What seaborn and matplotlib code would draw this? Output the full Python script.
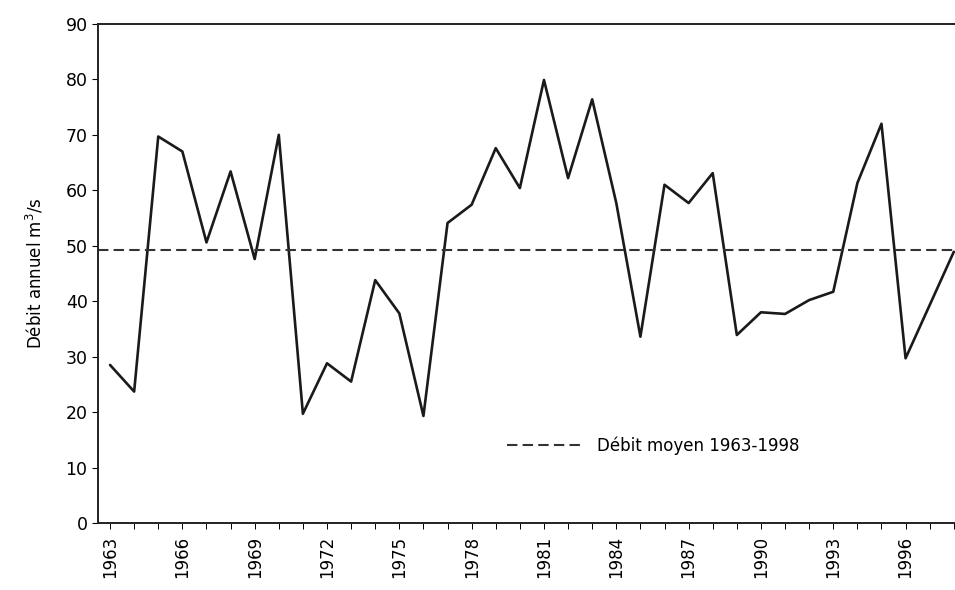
import numpy as np
import pandas as pd
import matplotlib
matplotlib.use('Agg')
import matplotlib.pyplot as plt
import seaborn as sns

# --- DATA ---
years = list(range(1963, 1999))
debit = [28.5, 23.7, 69.7, 67.0, 50.6, 63.4, 47.6, 70.0, 19.7, 28.8,
         25.5, 43.8, 37.8, 19.3, 54.1, 57.4, 67.6, 60.4, 79.9, 62.2,
         76.4, 57.7, 33.6, 61.0, 57.7, 63.1, 33.9, 38.0, 37.7, 40.2,
         41.7, 61.3, 72.0, 29.7, 39.3, 48.9]
debit_moyen = 49.3
label_moyen = 'Débit moyen 1963-1998'
ylabel = 'Débit annuel m$^3$/s'
major_years = list(range(1963, 1999, 3))

df = pd.DataFrame({'annee': years, 'debit': debit})

# --- PLOT ---
sns.set_style('white')
plt.rcParams['font.family'] = ['DejaVu Sans']
plt.rcParams['text.color'] = 'black'
plt.rcParams['axes.labelcolor'] = 'black'
plt.rcParams['xtick.color'] = 'black'
plt.rcParams['ytick.color'] = 'black'

fig = plt.figure(figsize=(9.55, 5.90), dpi=100)
ax = fig.add_axes([0.1026, 0.1136, 0.8974, 0.8458])

sns.lineplot(data=df, x='annee', y='debit', color='#1a1a1a', linewidth=1.9, ax=ax)
ax.axhline(debit_moyen, color='#333333', linewidth=1.5, linestyle=(0, (5, 2.5)),
           label=label_moyen)

ax.set_xlim(1962.5, 1998.05)
ax.set_ylim(0, 90)
ax.set_yticks(range(0, 91, 10))
ax.set_xticks(major_years)
ax.set_xticks(years, minor=True)
ax.set_xticklabels([str(y) for y in major_years], rotation=90, fontsize=12)
ax.tick_params(axis='y', labelsize=12.5, length=4, width=0.8, direction='out', left=True)
ax.tick_params(axis='x', which='both', length=4, width=0.7, direction='out', bottom=True, pad=5)
ax.set_xlabel('')
ax.set_ylabel(ylabel, fontsize=12, labelpad=14)

for s in ['left', 'bottom', 'top']:
    ax.spines[s].set_color('#222222')
    ax.spines[s].set_linewidth(1.4)
ax.spines['right'].set_visible(False)

ax.legend(loc='center left', bbox_to_anchor=(0.46, 0.155), frameon=False,
          fontsize=12, handlelength=4.5, handletextpad=0.9)

fig.savefig('out.png', dpi=100)
